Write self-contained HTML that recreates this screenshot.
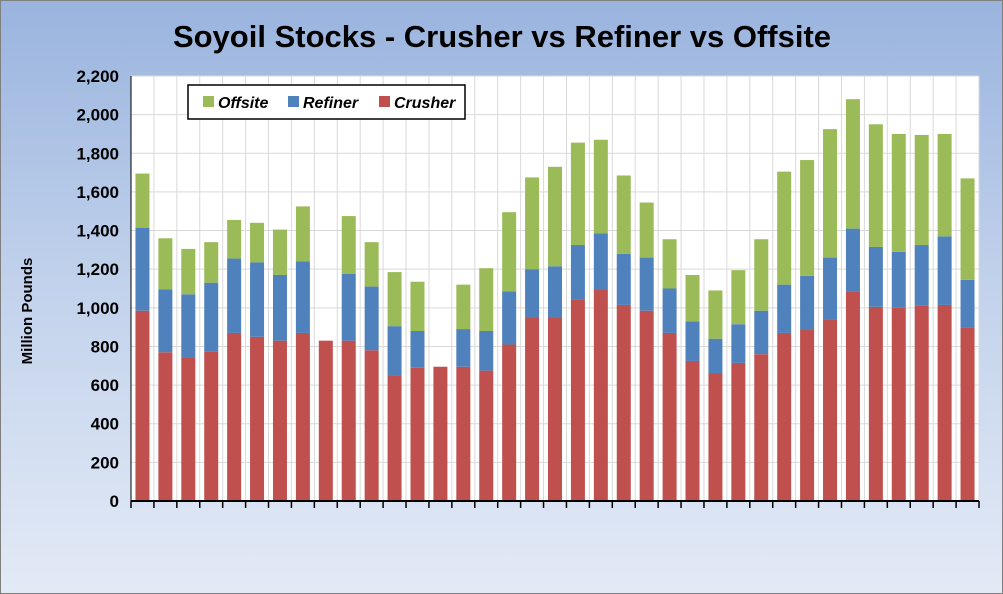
<!DOCTYPE html>
<html><head><meta charset="utf-8">
<style>
body{margin:0;}
#c{width:1003px;height:594px;position:relative;overflow:hidden;box-sizing:border-box;border:1px solid #7f7f7f;background:linear-gradient(180deg,#9ab4de 0%,#c3d3ec 50%,#e3eaf6 100%);font-family:"Liberation Sans",sans-serif;}
</style></head><body>
<div id="c">
<svg id="s" width="1003" height="594"></svg>
</div>
<script>
const categories=Array.from({length:37},(_,i)=>'P'+(i+1));
const crusher=[985,770,745,775,870,850,830,870,830,830,780,650,690,695,695,675,810,950,950,1045,1095,1015,985,870,725,660,715,760,870,890,940,1085,1005,1000,1010,1015,900];
const refiner=[430,325,325,355,385,385,340,370,0,345,330,255,190,0,195,205,275,250,265,280,290,265,275,230,205,180,200,225,250,275,320,325,310,290,315,355,245];
const offsite=[280,265,235,210,200,205,235,285,0,300,230,280,255,0,230,325,410,475,515,530,485,405,285,255,240,250,280,370,585,600,665,670,635,610,570,530,525];
const yTicks=[0,200,400,600,800,1000,1200,1400,1600,1800,2000,2200];
const NS='http://www.w3.org/2000/svg';
const s=document.getElementById('s');
const X0=130,X1=978,Y0=500,Y1=75,YMAX=2200;
const n=categories.length,step=(X1-X0)/n;
const y=v=>Y0-(v/YMAX)*(Y0-Y1);
const xc=i=>X0+step*(i+0.5);
function el(t,a,p){const e=document.createElementNS(NS,t);for(const k in a)e.setAttribute(k,a[k]);(p||s).appendChild(e);return e;}
let t=el('text',{x:501,y:46,'text-anchor':'middle','font-size':31,'font-weight':'bold',fill:'#000'});

t.textContent='Soyoil Stocks - Crusher vs Refiner vs Offsite';
let pb=el('rect',{x:X0,y:Y1,width:X1-X0,height:Y0-Y1,fill:'#fff'});

yTicks.forEach(v=>{
 const g=el('line',{x1:X0,x2:X1,y1:y(v),y2:y(v),stroke:'#d9d9d9','stroke-width':1});
 
 const l=el('text',{x:118,y:y(v)+6,'text-anchor':'end','font-size':17,'font-weight':'bold',fill:'#000'});
 
 l.textContent=v.toLocaleString('en-US');
});
for(let i=0;i<=n;i++){
 const xx=X0+step*i;
 const g=el('line',{x1:xx,x2:xx,y1:Y1,y2:Y0,stroke:'#d9d9d9','stroke-width':1});
 
 const tk=el('line',{x1:xx,x2:xx,y1:Y0,y2:Y0+7,stroke:'#000','stroke-width':1.5});
 
}
const bw=14;
categories.forEach((c,i)=>{
 let base=0;
 [[crusher,'#c0504d','bar-crusher'],[refiner,'#4f81bd','bar-refiner'],[offsite,'#9bbb59','bar-offsite']].forEach(([arr,col,nm])=>{
  const v=arr[i];if(v<=0)return;
  const r=el('rect',{x:xc(i)-bw/2,y:y(base+v),width:bw,height:y(base)-y(base+v),fill:col});
  
  base+=v;
 });
});
let ax=el('line',{x1:X0,x2:X1,y1:Y0,y2:Y0,stroke:'#000','stroke-width':2});

let ay=el('line',{x1:X0,x2:X0,y1:Y1,y2:Y0,stroke:'#000','stroke-width':1});

let yt=el('text',{x:0,y:0,transform:'translate(31,310) rotate(-90)','text-anchor':'middle','font-size':15,'font-weight':'bold',fill:'#000'});

yt.textContent='Million Pounds';
let lg=el('g',{});

el('rect',{x:187,y:84,width:277,height:34,fill:'#fff',stroke:'#000','stroke-width':1.5},lg);
[['Offsite','#9bbb59',202],['Refiner','#4f81bd',287],['Crusher','#c0504d',378]].forEach(([nm,col,lx])=>{
 const e=el('g',{},lg);
 
 el('rect',{x:lx,y:95,width:11,height:11,fill:col},e);
 const tx=el('text',{x:lx+15,y:107,'font-size':16,'font-weight':'bold','font-style':'italic',fill:'#000'},e);
 tx.textContent=nm;
});
</script>
</body></html>
